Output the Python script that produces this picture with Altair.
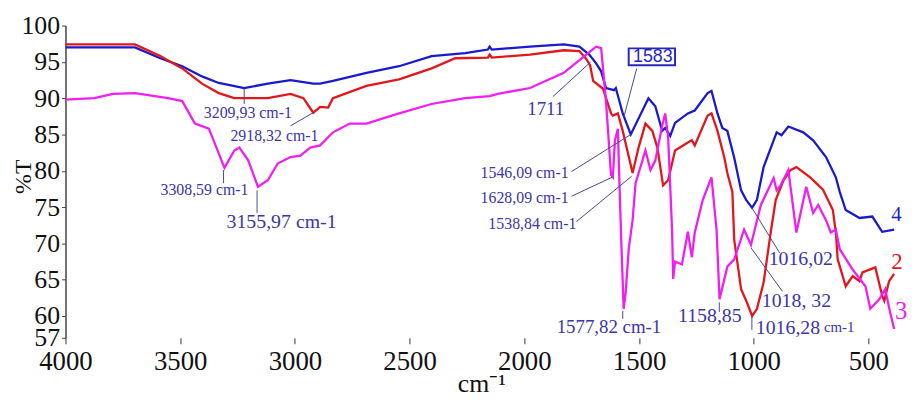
import altair as alt
import pandas as pd

# ---- spectra (wavenumber cm-1, %T) ----
wn_4 = [4000, 3697, 3587, 3491, 3405, 3332, 3221, 3118, 3019, 2920, 2890, 2834, 2688, 2546, 2404, 2258,
        2159, 2151, 2142, 1975, 1828, 1760, 1717, 1687, 1665, 1644, 1609, 1601, 1571, 1536, 1459, 1429,
        1399, 1386, 1364, 1343, 1287, 1257, 1201, 1184, 1158, 1137, 1115, 1085, 1055, 1033, 1007, 986,
        957, 900, 879, 849, 784, 741, 685, 642, 625, 599, 539, 483, 440, 388]
t_4 = [97.0, 97.0, 95.5, 94.4, 93.0, 92.1, 91.4, 92.0, 92.5, 92.0, 92.0, 92.4, 93.5, 94.4, 95.8, 96.2,
       96.7, 97.1, 96.7, 97.1, 97.4, 97.1, 96.0, 94.8, 93.7, 91.4, 91.1, 91.4, 87.9, 85.0, 90.0, 88.9,
       85.5, 85.9, 84.8, 86.6, 87.9, 88.3, 90.7, 91.0, 87.9, 85.9, 85.5, 81.8, 77.3, 76.0, 74.9, 76.0,
       80.5, 85.3, 84.9, 86.1, 85.3, 84.2, 81.9, 79.1, 77.1, 74.6, 73.5, 73.7, 71.6, 71.9]

wn_2 = [4000, 3697, 3587, 3491, 3405, 3332, 3264, 3118, 3019, 2963, 2920, 2890, 2855, 2834, 2688, 2546,
        2404, 2301, 2159, 2151, 2142, 1975, 1828, 1760, 1730, 1713, 1700, 1657, 1622, 1614, 1592, 1571,
        1528, 1502, 1472, 1442, 1420, 1395, 1373, 1343, 1287, 1270, 1257, 1201, 1184, 1158, 1128, 1115,
        1093, 1085, 1055, 1030, 1007, 986, 957, 926, 904, 870, 840, 814, 754, 698, 655, 642, 634, 599,
        569, 539, 526, 470, 440, 431, 410, 388]
t_2 = [97.4, 97.4, 95.8, 94.1, 92.0, 90.7, 90.0, 90.0, 90.6, 90.0, 88.0, 88.8, 88.7, 90.0, 91.7, 92.6,
       94.1, 95.5, 95.6, 96.0, 95.6, 96.0, 96.6, 96.5, 95.4, 94.5, 92.4, 91.3, 87.9, 87.6, 87.9, 85.5,
       79.7, 83.2, 86.5, 85.5, 83.2, 78.0, 78.7, 82.8, 83.9, 84.2, 83.5, 87.6, 87.9, 85.5, 81.8, 79.7,
       77.1, 70.5, 63.7, 61.9, 60.0, 61.0, 64.6, 71.5, 76.0, 78.7, 80.1, 80.5, 79.1, 77.4, 74.6, 71.5,
       67.8, 64.1, 65.5, 64.8, 66.0, 66.7, 62.8, 62.1, 64.8, 65.8]

wn_3 = [4000, 3875, 3793, 3697, 3553, 3491, 3436, 3375, 3332, 3307, 3264, 3242, 3203, 3161, 3118, 3075,
        3019, 2976, 2933, 2890, 2834, 2761, 2688, 2546, 2404, 2258, 2151, 2116, 1975, 1828, 1730, 1687,
        1665, 1644, 1635, 1622, 1614, 1605, 1592, 1588, 1579, 1571, 1567, 1558, 1545, 1528, 1515, 1472,
        1450, 1429, 1399, 1386, 1373, 1356, 1351, 1343, 1313, 1287, 1270, 1257, 1222, 1184, 1162, 1149,
        1115, 1085, 1042, 1012, 969, 913, 900, 883, 849, 814, 771, 741, 719, 685, 664, 642, 625, 569,
        513, 492, 453, 427, 406, 388]
t_3 = [89.8, 90.0, 90.6, 90.7, 90.0, 89.6, 86.5, 85.8, 82.4, 80.4, 82.8, 83.2, 81.4, 77.8, 78.7, 81.0,
       81.9, 82.1, 83.2, 83.5, 85.3, 86.5, 86.5, 87.9, 89.2, 90.0, 90.3, 90.6, 91.4, 93.5, 96.0, 97.1,
       96.9, 89.6, 85.5, 79.4, 79.1, 84.2, 85.8, 81.0, 71.9, 64.6, 61.0, 63.3, 69.2, 73.2, 78.3, 82.8,
       80.1, 81.4, 86.2, 87.9, 84.6, 71.9, 65.1, 67.5, 67.1, 71.6, 68.1, 71.5, 76.0, 79.1, 71.9, 62.3,
       66.8, 67.8, 71.9, 69.8, 75.3, 79.0, 77.3, 78.0, 80.1, 71.5, 77.8, 74.2, 75.3, 73.2, 71.5, 71.9,
       69.2, 66.4, 64.1, 61.0, 62.3, 63.7, 60.6, 58.2]

series_names = ["4", "2", "3"]
series_colors = ["#1a1acc", "#e3161c", "#f01ef0"]

# ---- axis ticks ----
x_ticks = [4000, 3500, 3000, 2500, 2000, 1500, 1000, 500]
y_ticks = [57, 60, 65, 70, 75, 80, 85, 90, 95, 100]

# ---- annotations ----
lab_left_text = ["3209,93 cm-1", "2918,32 cm-1", "3308,59 cm-1", "3155,97 cm-1", "1711",
                 "1577,82 cm-1", "1158,85", "1016,28", "cm-1", "1018, 32", "1016,02"]
lab_left_x = [3397, 3281, 3586, 3298, 1987, 1859, 1330, 991, 694, 965, 935]
lab_left_y = [88.0, 84.85, 77.3, 73.0, 88.5, 58.5, 60.0, 58.4, 58.5, 62.05, 67.8]
lab_left_size = [16, 16, 16, 20, 19, 19, 20, 20, 15, 20, 20]

lab_right_text = ["1546,09 cm-1", "1628,09 cm-1", "1538,84 cm-1"]
lab_right_x = [1807, 1807, 1773]
lab_right_y = [79.66, 76.25, 72.6]
lab_right_size = [16, 16, 16]

num_text = ["4", "2", "3"]
num_x = [378, 376, 357]
num_y = [73.9, 67.4, 60.7]
num_size = [21, 23, 25]

lead_x1 = [3221, 3019, 3311, 3165, 1876, 1510, 1794, 1794, 1773, 1571, 1150, 1008, 1012, 1008]
lead_y1 = [91.3, 86.2, 80.1, 77.3, 90.2, 94.1, 79.9, 76.5, 73.0, 60.7, 61.9, 59.9, 69.4, 74.9]
lead_x2 = [3221, 2920, 3311, 3165, 1712, 1566, 1536, 1618, 1532, 1571, 1150, 1008, 875, 887]
lead_y2 = [89.2, 88.0, 78.3, 74.2, 94.95, 87.4, 85.0, 79.1, 79.25, 59.6, 60.55, 58.1, 63.4, 68.7]

box_text = ["1583"]
box_x1 = [1545]
box_x2 = [1343]
box_y1 = [96.86]
box_y2 = [94.54]

ANN = "#3b35a6"
SERIF = "Liberation Serif"

xs = alt.Scale(domain=[375, 4000], reverse=True, nice=False, zero=False)
ys = alt.Scale(domain=[57, 100], nice=False, zero=False)

x_axis = alt.Axis(values=x_ticks, format="d", labelFont=SERIF, labelFontSize=27, labelColor="#111",
                  tickColor="#333", tickSize=6, labelPadding=5, domain=False, grid=False,
                  labelFlush=False, labelOverlap=False, title="cm⁻¹", titleFont=SERIF,
                  titleFontSize=26, titleFontWeight="normal", titleColor="#111", titleY=46,
                  titleBaseline="middle")
y_axis = alt.Axis(values=y_ticks, format="d", labelFont=SERIF, labelFontSize=26, labelColor="#111",
                  tickColor="#444", tickSize=4, labelPadding=2, domainColor="#444", domainWidth=1.5,
                  grid=False, labelFlush=False, labelOverlap=False, title="%T", titleFont=SERIF,
                  titleFontSize=24, titleFontWeight="normal", titleColor="#111", titleAngle=270,
                  titleX=-42, titleY=152, titleAlign="center", titleBaseline="middle")


def X(field):
    return alt.X(field, scale=xs, axis=x_axis)


def Y(field):
    return alt.Y(field, scale=ys, axis=y_axis)


layers = []
specs = [(wn_4, t_4), (wn_2, t_2), (wn_3, t_3)]
for k, (name, color) in enumerate(zip(series_names, series_colors)):
    wn, t = specs[k]
    df = pd.DataFrame({"wn": wn, "t": t, "i": list(range(len(wn)))})
    layers.append(
        alt.Chart(df).mark_line(color=color, strokeWidth=2.3, clip=True).encode(
            x=X("wn:Q"), y=Y("t:Q"), order="i:Q")
    )

lead_df = pd.DataFrame({"wn": lead_x1, "t": lead_y1, "x2": lead_x2, "y2": lead_y2})
layers.append(
    alt.Chart(lead_df).mark_rule(color="#4646a0", strokeWidth=1).encode(
        x=X("wn:Q"), y=Y("t:Q"), x2="x2:Q", y2="y2:Q")
)

left_df = pd.DataFrame({"txt": lab_left_text, "wn": lab_left_x, "t": lab_left_y, "s": lab_left_size})
layers.append(
    alt.Chart(left_df).mark_text(align="left", baseline="middle", font=SERIF, color=ANN).encode(
        x=X("wn:Q"), y=Y("t:Q"), text="txt:N", size=alt.Size("s:Q", scale=None))
)
right_df = pd.DataFrame({"txt": lab_right_text, "wn": lab_right_x, "t": lab_right_y, "s": lab_right_size})
layers.append(
    alt.Chart(right_df).mark_text(align="right", baseline="middle", font=SERIF, color=ANN).encode(
        x=X("wn:Q"), y=Y("t:Q"), text="txt:N", size=alt.Size("s:Q", scale=None))
)
num_df = pd.DataFrame({"txt": num_text, "wn": num_x, "t": num_y, "s": num_size, "c": series_colors})
layers.append(
    alt.Chart(num_df).mark_text(align="center", baseline="middle", font=SERIF).encode(
        x=X("wn:Q"), y=Y("t:Q"), text="txt:N", size=alt.Size("s:Q", scale=None),
        color=alt.Color("c:N", scale=None))
)
box_df = pd.DataFrame({"txt": box_text, "wn": box_x1, "x2": box_x2, "t": box_y1, "y2": box_y2,
                       "xm": [(a + b) / 2 for a, b in zip(box_x1, box_x2)],
                       "ym": [(a + b) / 2 for a, b in zip(box_y1, box_y2)]})
layers.append(
    alt.Chart(box_df).mark_rect(fill="white", stroke="#2828c0", strokeWidth=2).encode(
        x=X("wn:Q"), x2="x2:Q", y=Y("t:Q"), y2="y2:Q")
)
layers.append(
    alt.Chart(box_df).mark_text(align="center", baseline="middle", font="Liberation Sans",
                                fontSize=18, color="#2828c0", dx=1).encode(
        x=X("xm:Q"), y=Y("ym:Q"), text="txt:N")
)

chart = alt.layer(*layers).properties(
    width=839, height=315,
    padding={"left": 58, "top": 16, "right": 12, "bottom": 60},
    autosize=alt.AutoSizeParams(type="none"),
    background="white",
).configure_view(stroke=None)

chart.save("out.html", embed_options={"renderer": "svg", "actions": False})
